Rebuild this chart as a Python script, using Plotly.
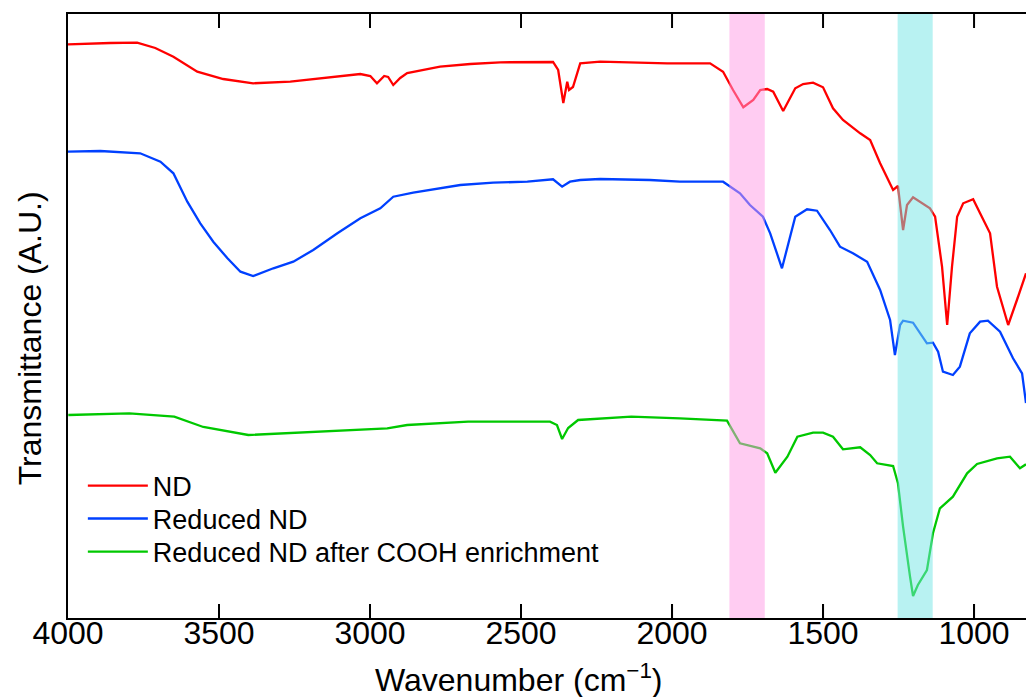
import plotly.graph_objects as go

# ---- data (wavenumber in cm^-1, transmittance in arbitrary units, offset stacked) ----
nd_wn = [4000, 3926, 3860, 3771, 3711, 3651, 3572, 3486, 3387, 3264, 3155, 3032, 2999, 2977,
         2953, 2940, 2923, 2900, 2877, 2810, 2768, 2668, 2569, 2394, 2377, 2360, 2347, 2341,
         2328, 2304, 2238, 2016, 1874, 1831, 1798, 1764, 1731, 1708, 1685, 1665, 1632, 1592,
         1566, 1533, 1500, 1467, 1434, 1377, 1344, 1311, 1268, 1252, 1235, 1222, 1202, 1146,
         1129, 1106, 1089, 1073, 1056, 1036, 1003, 980, 947, 924, 887, 858, 828]
nd_t = [573.7, 574.5, 575, 575.3, 570, 561.3, 546.3, 539, 534.7, 536.3, 539.7, 544, 542, 534.7,
        542, 541, 533, 540, 545, 549, 551.3, 554, 555.7, 556, 548, 515, 536.3, 528,
        531, 554.7, 556.3, 554.7, 554.7, 546.3, 528, 510.7, 518, 528, 529, 526.3, 507, 529.7,
        534, 535.3, 530.7, 509.7, 498, 484.7, 478, 454.7, 428, 432, 388, 413, 420.7, 409.7,
        401.3, 351.3, 293, 351.3, 401.3, 414.7, 418.7, 404.7, 384.7, 331.3, 293, 318, 344.7]

red_wn = [4000, 3893, 3761, 3694, 3651, 3605, 3562, 3519, 3472, 3429, 3387, 3320, 3254, 3188,
          3108, 3032, 2966, 2923, 2857, 2790, 2701, 2592, 2479, 2394, 2364, 2338, 2304, 2238,
          2073, 1974, 1831, 1775, 1742, 1699, 1675, 1636, 1592, 1553, 1520, 1477, 1444, 1401,
          1354, 1311, 1278, 1262, 1245, 1235, 1202, 1156, 1136, 1119, 1103, 1070, 1047, 1014,
          980, 954, 914, 871, 841, 828]
red_t = [466.3, 467, 464.7, 456.3, 444.7, 416.3, 394.7, 376.3, 359.7, 346.3, 342, 349.7, 356.3, 368,
         384.7, 399.7, 409.7, 421.3, 425.3, 428.7, 433, 435.3, 436.3, 438.7, 431.3, 436.3, 438, 439,
         438, 436.3, 436.3, 424.7, 413, 401.3, 384.7, 349.7, 401.3, 408.7, 407.3, 388, 371.3, 364.7,
         356.3, 328, 298, 263, 293, 297.3, 295.3, 274.7, 275.3, 266.3, 246.3, 243, 251.3, 284.7,
         296.3, 297.3, 286.3, 259.7, 244.7, 215]

cooh_wn = [3999, 3797, 3648, 3552, 3403, 3350, 3148, 2943, 2877, 2675, 2404, 2381, 2364, 2344,
           2311, 2135, 1974, 1818, 1775, 1708, 1685, 1658, 1618, 1585, 1533, 1500, 1467, 1434,
           1377, 1344, 1321, 1268, 1252, 1235, 1212, 1202, 1186, 1156, 1136, 1113, 1070, 1023,
           990, 924, 881, 848, 828]
cooh_t = [203, 204.7, 201.3, 191, 183, 183.7, 186.3, 189.7, 193, 196.3, 196.3, 193, 179, 190,
          198, 201.3, 199.7, 197.3, 174.7, 169.7, 164.7, 145.3, 161.3, 181.3, 185.3, 185.3, 181.3, 168.7,
          170.7, 163, 154.7, 152, 134.7, 91.3, 41.3, 22, 33, 48, 84.7, 109.7, 121.3, 144.7,
          154, 159.7, 161.3, 149.7, 153.7]

series_names = ["ND", "Reduced ND", "Reduced ND after COOH enrichment"]
series_colors = ["#FF0000", "#0040FF", "#00C800"]

bands = [(1810, 1693, "rgb(255,153,229)"), (1253, 1137, "rgb(113,229,229)")]
x_ticks = [4000, 3500, 3000, 2500, 2000, 1500, 1000]
x_range = [4000, 828]

FONT = "Liberation Sans, Arial, sans-serif"
legend_ids = ["legend", "legend2", "legend3"]
legend_y = [0.2185, 0.164, 0.109]
TICK_FRAC = 14 / 604  # inside tick length as a fraction of plot height

fig = go.Figure()
for wn, t, name, col, lid in zip([nd_wn, red_wn, cooh_wn], [nd_t, red_t, cooh_t],
                                 series_names, series_colors, legend_ids):
    fig.add_trace(go.Scatter(x=wn, y=t, mode="lines", name=name, legend=lid,
                             line=dict(color=col, width=2.3)))

for x0, x1, col in bands:
    fig.add_shape(type="rect", xref="x", yref="paper", x0=x0, x1=x1, y0=0, y1=1,
                  fillcolor=col, opacity=0.5, line=dict(width=0), layer="above")

# inside tick marks on bottom and top frame edges
for tv in x_ticks[1:]:
    for y0, y1 in [(0, TICK_FRAC), (1 - TICK_FRAC, 1)]:
        fig.add_shape(type="line", xref="x", yref="paper", x0=tv, x1=tv, y0=y0, y1=y1,
                      line=dict(color="black", width=2), layer="above")

legend_style = dict(x=0.0155, xanchor="left", yanchor="middle", bgcolor="rgba(0,0,0,0)",
                    font=dict(size=27, family=FONT), itemwidth=60)
fig.update_layout(
    width=1026, height=697,
    margin=dict(l=68, r=0, t=14, b=79),
    paper_bgcolor="white", plot_bgcolor="white",
    font=dict(family=FONT, color="black", size=32),
    showlegend=True,
    legend=dict(y=legend_y[0], **legend_style),
    legend2=dict(y=legend_y[1], **legend_style),
    legend3=dict(y=legend_y[2], **legend_style),
)
fig.update_xaxes(range=x_range, tickvals=x_ticks, ticktext=[str(v) for v in x_ticks],
                 ticks="inside", ticklen=14, tickwidth=2, tickcolor="black",
                 showline=True, linecolor="black", linewidth=2, mirror=True,
                 showgrid=False, zeroline=False, tickfont=dict(size=32, family=FONT),
                 ticklabelstandoff=-14)
fig.update_yaxes(range=[0, 604], showticklabels=False, ticks="",
                 showline=True, linecolor="black", linewidth=2, mirror=False,
                 showgrid=False, zeroline=False)

fig.add_annotation(text="Wavenumber (cm<sup>\u22121</sup>)", xref="paper", yref="paper",
                   x=0.471, y=-0.099, xanchor="center", yanchor="middle", showarrow=False,
                   font=dict(size=32, family=FONT))
fig.add_annotation(text="Transmittance (A.U.)", xref="paper", yref="paper",
                   x=-0.0393, y=0.4636, xanchor="center", yanchor="middle", showarrow=False,
                   textangle=-90, font=dict(size=32, family=FONT))

fig.write_html("out.html", config={"displayModeBar": False},
               post_script="document.body.style.margin='0';")
